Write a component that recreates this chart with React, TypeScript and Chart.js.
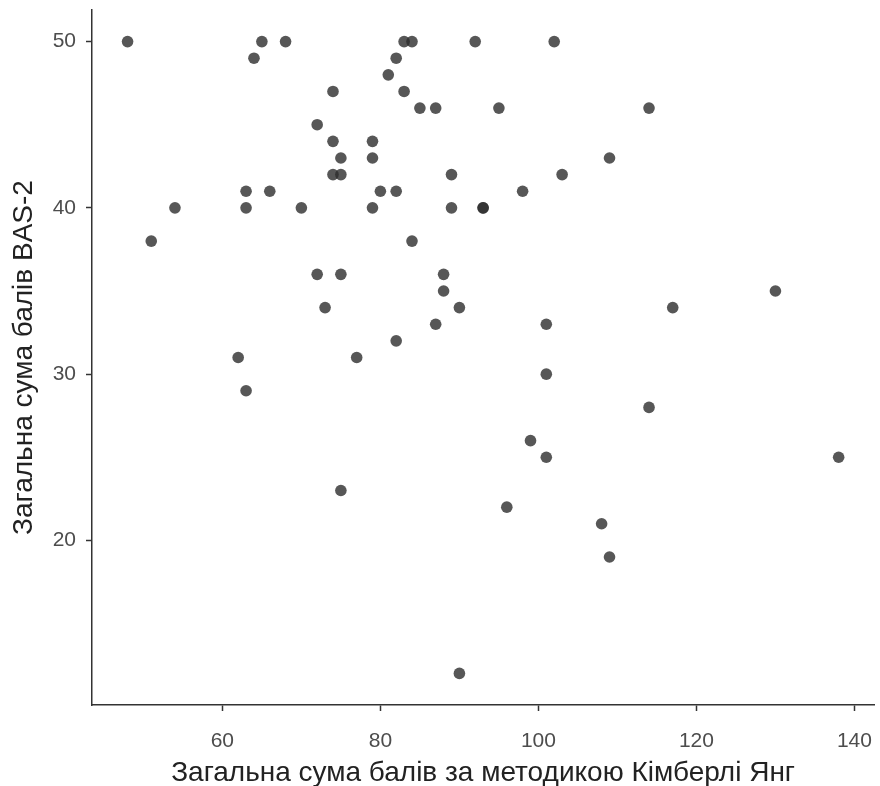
import React, { useEffect, useRef } from "react";
import { Chart, registerables } from "chart.js";

Chart.register(...registerables);

// Загальна сума балів за методикою Кімберлі Янг
const kimberlyYoung: number[] = [
  48, 65, 68, 83, 84, 92, 102,
  64, 82,
  81,
  74, 83,
  85, 87, 95, 114,
  72,
  74, 79,
  75, 79, 109,
  74, 75, 89, 103,
  63, 66, 80, 82, 98,
  54, 63, 70, 79, 89, 93, 93,
  51, 84,
  72, 75, 88,
  88, 130,
  73, 90, 117,
  87, 101,
  82,
  62, 77,
  101,
  63,
  114,
  99,
  101, 138,
  75,
  96,
  108,
  109,
  90,
];

// Загальна сума балів BAS-2
const bas2: number[] = [
  50, 50, 50, 50, 50, 50, 50,
  49, 49,
  48,
  47, 47,
  46, 46, 46, 46,
  45,
  44, 44,
  43, 43, 43,
  42, 42, 42, 42,
  41, 41, 41, 41, 41,
  40, 40, 40, 40, 40, 40, 40,
  38, 38,
  36, 36, 36,
  35, 35,
  34, 34, 34,
  33, 33,
  32,
  31, 31,
  30,
  29,
  28,
  26,
  25, 25,
  23,
  22,
  21,
  19,
  12,
];

const xTicks: number[] = [60, 80, 100, 120, 140];
const yTicks: number[] = [20, 30, 40, 50];

const xTitle = "Загальна сума балів за методикою Кімберлі Янг";
const yTitle = "Загальна сума балів BAS-2";

const FONT = "'Liberation Sans', Arial, Helvetica, sans-serif";

export default function App() {
  const canvasRef = useRef<HTMLCanvasElement | null>(null);

  useEffect(() => {
    document.body.style.margin = "0";
    const canvas = canvasRef.current;
    if (!canvas) return;
    const points = kimberlyYoung.map((x, i) => ({ x, y: bas2[i] }));
    const chart = new Chart(canvas, {
      type: "scatter",
      data: {
        datasets: [
          {
            data: points,
            backgroundColor: "rgba(45,45,45,0.8)",
            borderWidth: 0,
            pointRadius: 5.8,
            pointHoverRadius: 5.8,
          },
        ],
      },
      options: {
        animation: false,
        responsive: false,
        maintainAspectRatio: false,
        devicePixelRatio: 1,
        layout: { padding: { top: 10, right: 2, left: 0, bottom: 0 } },
        plugins: {
          legend: { display: false },
          tooltip: { enabled: false },
        },
        scales: {
          x: {
            type: "linear",
            min: 43.5,
            max: 142.5,
            afterBuildTicks: (axis: any) => {
              axis.ticks = xTicks.map((v) => ({ value: v }));
            },
            afterFit: (scale: any) => {
              scale.height = 81;
              scale.paddingLeft = 0;
              scale.paddingRight = 0;
            },
            grid: {
              display: true,
              drawOnChartArea: false,
              drawTicks: true,
              tickLength: 6,
              tickWidth: 1.5,
              tickColor: "#333333",
            },
            border: { display: true, color: "#333333", width: 1.5 },
            ticks: {
              color: "#4d4d4d",
              font: { family: FONT, size: 21 },
              padding: 18,
              maxRotation: 0,
              autoSkip: false,
            },
            title: {
              display: true,
              text: xTitle,
              color: "#222222",
              font: { family: FONT, size: 28 },
              padding: { top: 0, bottom: -4 },
            },
          },
          y: {
            type: "linear",
            min: 10.1,
            max: 51.9,
            afterBuildTicks: (axis: any) => {
              axis.ticks = yTicks.map((v) => ({ value: v }));
            },
            afterFit: (scale: any) => {
              scale.width = 92;
              scale.paddingTop = 0;
              scale.paddingBottom = 0;
            },
            grid: {
              display: true,
              drawOnChartArea: false,
              drawTicks: true,
              tickLength: 6,
              tickWidth: 1.5,
              tickColor: "#333333",
            },
            border: { display: true, color: "#333333", width: 1.5 },
            ticks: {
              color: "#4d4d4d",
              font: { family: FONT, size: 21 },
              padding: 10,
              autoSkip: false,
            },
            title: {
              display: true,
              text: yTitle,
              color: "#222222",
              font: { family: FONT, size: 28 },
              padding: { top: 7, bottom: 0 },
            },
          },
        },
      },
    });
    return () => chart.destroy();
  }, []);

  return (
    <div style={{ position: "relative", width: 880, height: 786 }}>
      <canvas ref={canvasRef} width={880} height={786} style={{ display: "block" }} />
    </div>
  );
}
